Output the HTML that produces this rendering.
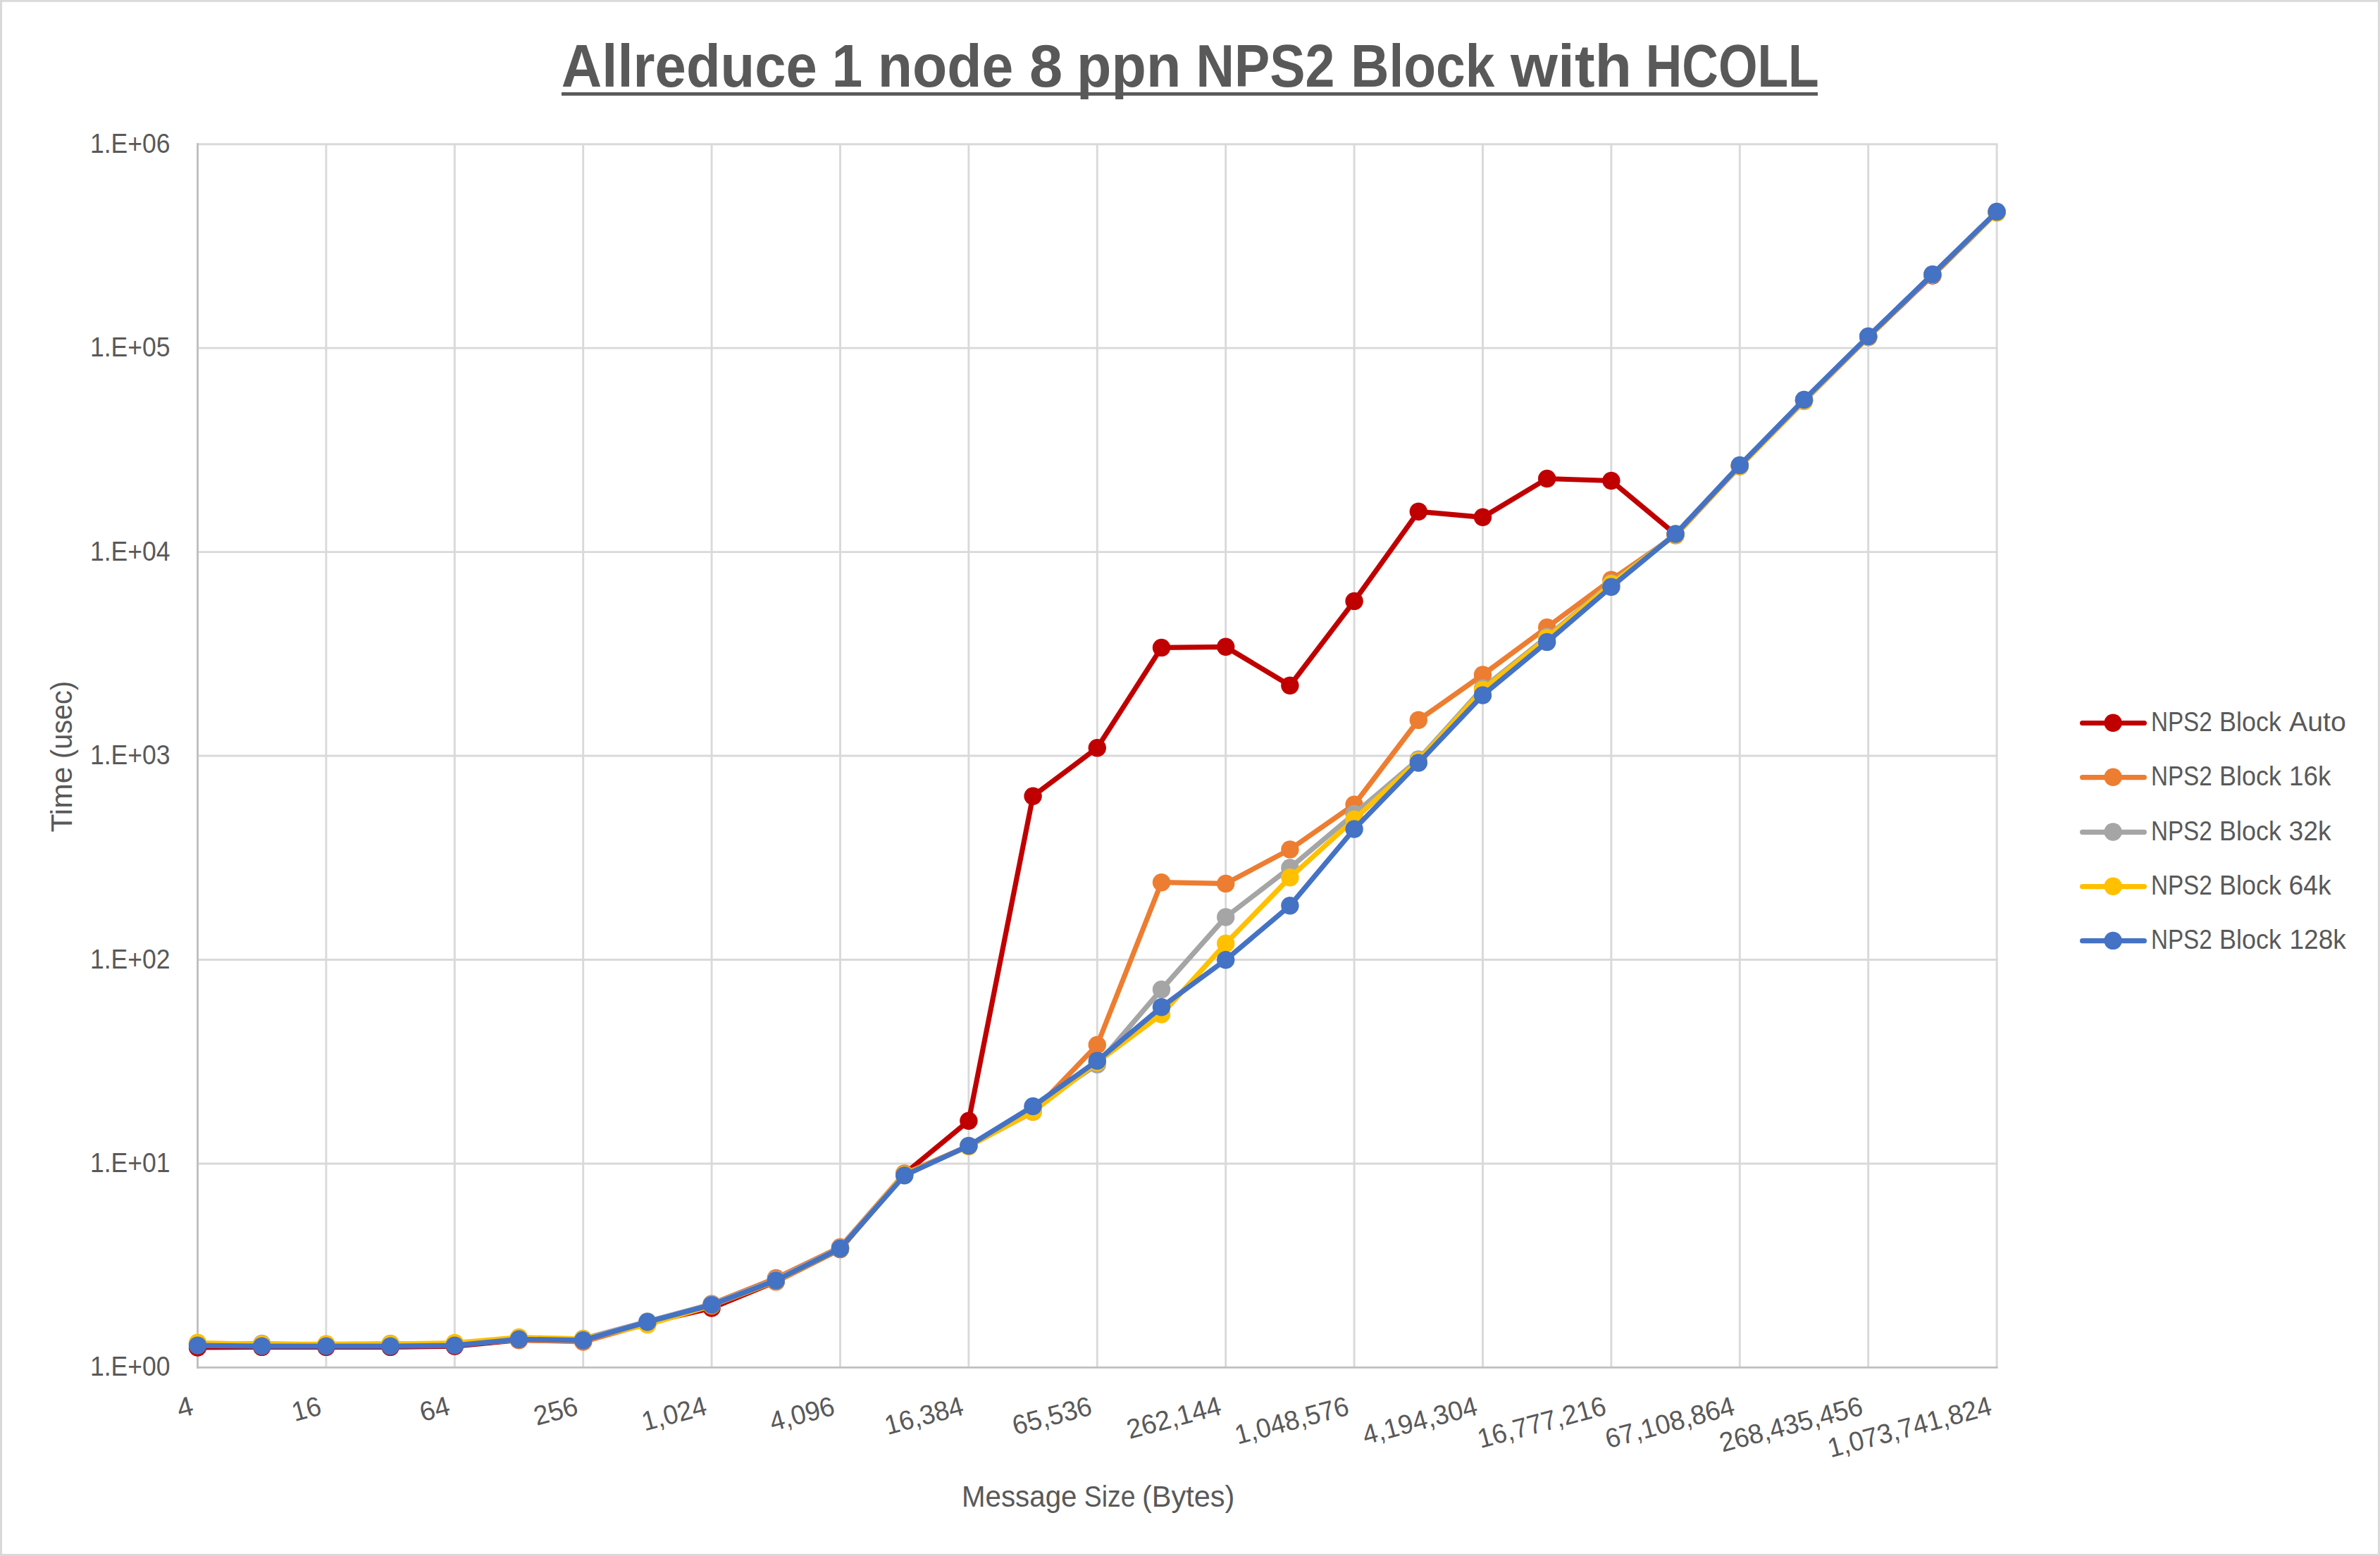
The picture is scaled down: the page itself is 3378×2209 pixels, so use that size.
<!DOCTYPE html>
<html lang="en"><head><meta charset="utf-8">
<title>Allreduce 1 node 8 ppn NPS2 Block with HCOLL</title>
<style>
html,body{margin:0;padding:0;background:#fff;}
body{width:3378px;height:2209px;overflow:hidden;}
svg{display:block;}
text{font-family:"Liberation Sans", "DejaVu Sans", sans-serif;fill:#595959;}
.t{font-size:85.8px;font-weight:bold;}
.a{font-size:38.6px;}
.b{font-size:42.6px;}
.g{stroke:#D9D9D9;stroke-width:2.90;fill:none;}
.ax{stroke:#BFBFBF;stroke-width:2.90;fill:none;}
.s{fill:none;stroke-width:7.20;stroke-linejoin:round;stroke-linecap:round;}
</style></head><body>
<svg width="3378" height="2209" viewBox="0 0 3378 2209">
<rect x="0" y="0" width="3378" height="2209" fill="#FFFFFF"/>
<rect x="1.5" y="1.25" width="3375.0" height="2206.2" fill="none" stroke="#D9D9D9" stroke-width="3"/>
<g class="g">
<line x1="279.00" y1="1651.95" x2="2835.60" y2="1651.95"/>
<line x1="279.00" y1="1362.50" x2="2835.60" y2="1362.50"/>
<line x1="279.00" y1="1073.05" x2="2835.60" y2="1073.05"/>
<line x1="279.00" y1="783.60" x2="2835.60" y2="783.60"/>
<line x1="279.00" y1="494.15" x2="2835.60" y2="494.15"/>
<line x1="279.00" y1="204.70" x2="2835.60" y2="204.70"/>
<line x1="462.90" y1="204.70" x2="462.90" y2="1941.40"/>
<line x1="645.30" y1="204.70" x2="645.30" y2="1941.40"/>
<line x1="827.70" y1="204.70" x2="827.70" y2="1941.40"/>
<line x1="1010.10" y1="204.70" x2="1010.10" y2="1941.40"/>
<line x1="1192.50" y1="204.70" x2="1192.50" y2="1941.40"/>
<line x1="1374.90" y1="204.70" x2="1374.90" y2="1941.40"/>
<line x1="1557.30" y1="204.70" x2="1557.30" y2="1941.40"/>
<line x1="1739.70" y1="204.70" x2="1739.70" y2="1941.40"/>
<line x1="1922.10" y1="204.70" x2="1922.10" y2="1941.40"/>
<line x1="2104.50" y1="204.70" x2="2104.50" y2="1941.40"/>
<line x1="2286.90" y1="204.70" x2="2286.90" y2="1941.40"/>
<line x1="2469.30" y1="204.70" x2="2469.30" y2="1941.40"/>
<line x1="2651.70" y1="204.70" x2="2651.70" y2="1941.40"/>
<line x1="2834.10" y1="204.70" x2="2834.10" y2="1941.40"/>
</g>
<g class="ax">
<line x1="280.50" y1="203.20" x2="280.50" y2="1942.90"/>
<line x1="279.00" y1="1941.40" x2="2835.60" y2="1941.40"/>
</g>
<g class="t">
<text x="796.8" y="122.6" textLength="363.0" lengthAdjust="spacingAndGlyphs">Allreduce</text>
<text x="1180.8" y="122.6" textLength="43.5" lengthAdjust="spacingAndGlyphs">1</text>
<text x="1245.8" y="122.6" textLength="192.5" lengthAdjust="spacingAndGlyphs">node</text>
<text x="1461.0" y="122.6" textLength="47.2" lengthAdjust="spacingAndGlyphs">8</text>
<text x="1528.1" y="122.6" textLength="148.2" lengthAdjust="spacingAndGlyphs">ppn</text>
<text x="1697.4" y="122.6" textLength="197.1" lengthAdjust="spacingAndGlyphs">NPS2</text>
<text x="1917.3" y="122.6" textLength="204.1" lengthAdjust="spacingAndGlyphs">Block</text>
<text x="2144.1" y="122.6" textLength="172.0" lengthAdjust="spacingAndGlyphs">with</text>
<text x="2335.8" y="122.6" textLength="245.8" lengthAdjust="spacingAndGlyphs">HCOLL</text>
</g>
<rect x="797" y="131" width="1783" height="4.8" fill="#595959"/>
<g class="a">
<text x="128.0" y="1953.4" textLength="113.5" lengthAdjust="spacingAndGlyphs">1.E+00</text>
<text x="128.0" y="1664.0" textLength="113.5" lengthAdjust="spacingAndGlyphs">1.E+01</text>
<text x="128.0" y="1374.5" textLength="113.5" lengthAdjust="spacingAndGlyphs">1.E+02</text>
<text x="128.0" y="1085.1" textLength="113.5" lengthAdjust="spacingAndGlyphs">1.E+03</text>
<text x="128.0" y="795.6" textLength="113.5" lengthAdjust="spacingAndGlyphs">1.E+04</text>
<text x="128.0" y="506.2" textLength="113.5" lengthAdjust="spacingAndGlyphs">1.E+05</text>
<text x="128.0" y="216.7" textLength="113.5" lengthAdjust="spacingAndGlyphs">1.E+06</text>
</g>
<g class="a">
<text transform="translate(275.2 2007.8) rotate(-15)" x="-21.0" textLength="22.4" lengthAdjust="spacingAndGlyphs">4</text>
<text transform="translate(457.6 2007.8) rotate(-15)" x="-40.7" textLength="41.4" lengthAdjust="spacingAndGlyphs">16</text>
<text transform="translate(640.0 2007.8) rotate(-15)" x="-41.8" textLength="42.5" lengthAdjust="spacingAndGlyphs">64</text>
<text transform="translate(822.4 2007.8) rotate(-15)" x="-62.7" textLength="62.7" lengthAdjust="spacingAndGlyphs">256</text>
<text transform="translate(1004.8 2007.8) rotate(-15)" x="-92.9" textLength="93.5" lengthAdjust="spacingAndGlyphs">1,024</text>
<text transform="translate(1187.2 2007.8) rotate(-15)" x="-93.9" textLength="93.5" lengthAdjust="spacingAndGlyphs">4,096</text>
<text transform="translate(1369.6 2007.8) rotate(-15)" x="-113.7" textLength="113.7" lengthAdjust="spacingAndGlyphs">16,384</text>
<text transform="translate(1552.0 2007.8) rotate(-15)" x="-114.8" textLength="114.8" lengthAdjust="spacingAndGlyphs">65,536</text>
<text transform="translate(1734.4 2007.8) rotate(-15)" x="-135.7" textLength="137.0" lengthAdjust="spacingAndGlyphs">262,144</text>
<text transform="translate(1916.8 2007.8) rotate(-15)" x="-165.8" textLength="165.8" lengthAdjust="spacingAndGlyphs">1,048,576</text>
<text transform="translate(2099.2 2007.8) rotate(-15)" x="-166.9" textLength="166.9" lengthAdjust="spacingAndGlyphs">4,194,304</text>
<text transform="translate(2281.6 2007.8) rotate(-15)" x="-186.8" textLength="187.1" lengthAdjust="spacingAndGlyphs">16,777,216</text>
<text transform="translate(2464.0 2007.8) rotate(-15)" x="-187.8" textLength="188.1" lengthAdjust="spacingAndGlyphs">67,108,864</text>
<text transform="translate(2646.4 2007.8) rotate(-15)" x="-208.7" textLength="208.4" lengthAdjust="spacingAndGlyphs">268,435,456</text>
<text transform="translate(2828.8 2007.8) rotate(-15)" x="-238.8" textLength="239.2" lengthAdjust="spacingAndGlyphs">1,073,741,824</text>
</g>
<g class="b">
<text x="1364.9" y="2138.8" textLength="163.6" lengthAdjust="spacingAndGlyphs">Message</text>
<text x="1538.8" y="2138.8" textLength="72.7" lengthAdjust="spacingAndGlyphs">Size</text>
<text x="1620.9" y="2138.8" textLength="131.5" lengthAdjust="spacingAndGlyphs">(Bytes)</text>
<text transform="translate(102 1180.6) rotate(-90)" x="-1.0" textLength="93.1" lengthAdjust="spacingAndGlyphs">Time</text>
<text transform="translate(102 1180.6) rotate(-90)" x="103.6" textLength="110.1" lengthAdjust="spacingAndGlyphs">(usec)</text>
</g>
<g fill="#C00000" stroke="none">
<polyline class="s" stroke="#C00000" points="280.5,1913.0 371.7,1912.4 462.9,1912.4 554.1,1912.4 645.3,1911.2 736.5,1902.5 827.7,1904.0 918.9,1878.0 1010.1,1857.0 1101.3,1819.5 1192.5,1773.5 1283.7,1666.5 1374.9,1591.3 1466.1,1130.2 1557.3,1061.7 1648.5,919.4 1739.7,918.3 1830.9,973.2 1922.1,853.4 2013.3,726.2 2104.5,734.3 2195.7,679.5 2286.9,682.5 2378.1,758.5 2469.3,661.5 2560.5,568.5 2651.7,478.5 2742.9,391.0 2834.1,301.5"/>
<circle cx="280.5" cy="1913.0" r="12.7"/>
<circle cx="371.7" cy="1912.4" r="12.7"/>
<circle cx="462.9" cy="1912.4" r="12.7"/>
<circle cx="554.1" cy="1912.4" r="12.7"/>
<circle cx="645.3" cy="1911.2" r="12.7"/>
<circle cx="736.5" cy="1902.5" r="12.7"/>
<circle cx="827.7" cy="1904.0" r="12.7"/>
<circle cx="918.9" cy="1878.0" r="12.7"/>
<circle cx="1010.1" cy="1857.0" r="12.7"/>
<circle cx="1101.3" cy="1819.5" r="12.7"/>
<circle cx="1192.5" cy="1773.5" r="12.7"/>
<circle cx="1283.7" cy="1666.5" r="12.7"/>
<circle cx="1374.9" cy="1591.3" r="12.7"/>
<circle cx="1466.1" cy="1130.2" r="12.7"/>
<circle cx="1557.3" cy="1061.7" r="12.7"/>
<circle cx="1648.5" cy="919.4" r="12.7"/>
<circle cx="1739.7" cy="918.3" r="12.7"/>
<circle cx="1830.9" cy="973.2" r="12.7"/>
<circle cx="1922.1" cy="853.4" r="12.7"/>
<circle cx="2013.3" cy="726.2" r="12.7"/>
<circle cx="2104.5" cy="734.3" r="12.7"/>
<circle cx="2195.7" cy="679.5" r="12.7"/>
<circle cx="2286.9" cy="682.5" r="12.7"/>
<circle cx="2378.1" cy="758.5" r="12.7"/>
<circle cx="2469.3" cy="661.5" r="12.7"/>
<circle cx="2560.5" cy="568.5" r="12.7"/>
<circle cx="2651.7" cy="478.5" r="12.7"/>
<circle cx="2742.9" cy="391.0" r="12.7"/>
<circle cx="2834.1" cy="301.5" r="12.7"/>
</g>
<g fill="#ED7D31" stroke="none">
<polyline class="s" stroke="#ED7D31" points="280.5,1908.0 371.7,1910.0 462.9,1910.0 554.1,1910.0 645.3,1909.0 736.5,1902.5 827.7,1905.0 918.9,1879.0 1010.1,1851.0 1101.3,1814.5 1192.5,1770.5 1283.7,1666.0 1374.9,1627.0 1466.1,1578.5 1557.3,1483.5 1648.5,1252.7 1739.7,1254.4 1830.9,1205.9 1922.1,1142.3 2013.3,1022.2 2104.5,958.0 2195.7,890.7 2286.9,823.2 2378.1,760.0 2469.3,662.0 2560.5,569.5 2651.7,478.5 2742.9,390.0 2834.1,301.5"/>
<circle cx="280.5" cy="1908.0" r="12.7"/>
<circle cx="371.7" cy="1910.0" r="12.7"/>
<circle cx="462.9" cy="1910.0" r="12.7"/>
<circle cx="554.1" cy="1910.0" r="12.7"/>
<circle cx="645.3" cy="1909.0" r="12.7"/>
<circle cx="736.5" cy="1902.5" r="12.7"/>
<circle cx="827.7" cy="1905.0" r="12.7"/>
<circle cx="918.9" cy="1879.0" r="12.7"/>
<circle cx="1010.1" cy="1851.0" r="12.7"/>
<circle cx="1101.3" cy="1814.5" r="12.7"/>
<circle cx="1192.5" cy="1770.5" r="12.7"/>
<circle cx="1283.7" cy="1666.0" r="12.7"/>
<circle cx="1374.9" cy="1627.0" r="12.7"/>
<circle cx="1466.1" cy="1578.5" r="12.7"/>
<circle cx="1557.3" cy="1483.5" r="12.7"/>
<circle cx="1648.5" cy="1252.7" r="12.7"/>
<circle cx="1739.7" cy="1254.4" r="12.7"/>
<circle cx="1830.9" cy="1205.9" r="12.7"/>
<circle cx="1922.1" cy="1142.3" r="12.7"/>
<circle cx="2013.3" cy="1022.2" r="12.7"/>
<circle cx="2104.5" cy="958.0" r="12.7"/>
<circle cx="2195.7" cy="890.7" r="12.7"/>
<circle cx="2286.9" cy="823.2" r="12.7"/>
<circle cx="2378.1" cy="760.0" r="12.7"/>
<circle cx="2469.3" cy="662.0" r="12.7"/>
<circle cx="2560.5" cy="569.5" r="12.7"/>
<circle cx="2651.7" cy="478.5" r="12.7"/>
<circle cx="2742.9" cy="390.0" r="12.7"/>
<circle cx="2834.1" cy="301.5" r="12.7"/>
</g>
<g fill="#A5A5A5" stroke="none">
<polyline class="s" stroke="#A5A5A5" points="280.5,1908.0 371.7,1907.5 462.9,1909.0 554.1,1907.5 645.3,1908.0 736.5,1900.0 827.7,1900.5 918.9,1876.0 1010.1,1851.5 1101.3,1816.5 1192.5,1771.5 1283.7,1668.0 1374.9,1627.0 1466.1,1572.0 1557.3,1511.3 1648.5,1404.7 1739.7,1302.0 1830.9,1231.9 1922.1,1155.5 2013.3,1078.0 2104.5,977.0 2195.7,904.0 2286.9,828.0 2378.1,758.5 2469.3,661.0 2560.5,568.0 2651.7,478.0 2742.9,390.0 2834.1,301.0"/>
<circle cx="280.5" cy="1908.0" r="12.7"/>
<circle cx="371.7" cy="1907.5" r="12.7"/>
<circle cx="462.9" cy="1909.0" r="12.7"/>
<circle cx="554.1" cy="1907.5" r="12.7"/>
<circle cx="645.3" cy="1908.0" r="12.7"/>
<circle cx="736.5" cy="1900.0" r="12.7"/>
<circle cx="827.7" cy="1900.5" r="12.7"/>
<circle cx="918.9" cy="1876.0" r="12.7"/>
<circle cx="1010.1" cy="1851.5" r="12.7"/>
<circle cx="1101.3" cy="1816.5" r="12.7"/>
<circle cx="1192.5" cy="1771.5" r="12.7"/>
<circle cx="1283.7" cy="1668.0" r="12.7"/>
<circle cx="1374.9" cy="1627.0" r="12.7"/>
<circle cx="1466.1" cy="1572.0" r="12.7"/>
<circle cx="1557.3" cy="1511.3" r="12.7"/>
<circle cx="1648.5" cy="1404.7" r="12.7"/>
<circle cx="1739.7" cy="1302.0" r="12.7"/>
<circle cx="1830.9" cy="1231.9" r="12.7"/>
<circle cx="1922.1" cy="1155.5" r="12.7"/>
<circle cx="2013.3" cy="1078.0" r="12.7"/>
<circle cx="2104.5" cy="977.0" r="12.7"/>
<circle cx="2195.7" cy="904.0" r="12.7"/>
<circle cx="2286.9" cy="828.0" r="12.7"/>
<circle cx="2378.1" cy="758.5" r="12.7"/>
<circle cx="2469.3" cy="661.0" r="12.7"/>
<circle cx="2560.5" cy="568.0" r="12.7"/>
<circle cx="2651.7" cy="478.0" r="12.7"/>
<circle cx="2742.9" cy="390.0" r="12.7"/>
<circle cx="2834.1" cy="301.0" r="12.7"/>
</g>
<g fill="#FFC000" stroke="none">
<polyline class="s" stroke="#FFC000" points="280.5,1906.3 371.7,1908.5 462.9,1908.0 554.1,1908.0 645.3,1906.5 736.5,1898.5 827.7,1901.0 918.9,1880.6 1010.1,1853.5 1101.3,1819.0 1192.5,1773.0 1283.7,1667.5 1374.9,1627.5 1466.1,1578.2 1557.3,1508.0 1648.5,1440.1 1739.7,1339.5 1830.9,1245.8 1922.1,1163.2 2013.3,1080.0 2104.5,979.3 2195.7,905.8 2286.9,829.0 2378.1,759.0 2469.3,661.5 2560.5,569.0 2651.7,478.3 2742.9,390.0 2834.1,302.0"/>
<circle cx="280.5" cy="1906.3" r="12.7"/>
<circle cx="371.7" cy="1908.5" r="12.7"/>
<circle cx="462.9" cy="1908.0" r="12.7"/>
<circle cx="554.1" cy="1908.0" r="12.7"/>
<circle cx="645.3" cy="1906.5" r="12.7"/>
<circle cx="736.5" cy="1898.5" r="12.7"/>
<circle cx="827.7" cy="1901.0" r="12.7"/>
<circle cx="918.9" cy="1880.6" r="12.7"/>
<circle cx="1010.1" cy="1853.5" r="12.7"/>
<circle cx="1101.3" cy="1819.0" r="12.7"/>
<circle cx="1192.5" cy="1773.0" r="12.7"/>
<circle cx="1283.7" cy="1667.5" r="12.7"/>
<circle cx="1374.9" cy="1627.5" r="12.7"/>
<circle cx="1466.1" cy="1578.2" r="12.7"/>
<circle cx="1557.3" cy="1508.0" r="12.7"/>
<circle cx="1648.5" cy="1440.1" r="12.7"/>
<circle cx="1739.7" cy="1339.5" r="12.7"/>
<circle cx="1830.9" cy="1245.8" r="12.7"/>
<circle cx="1922.1" cy="1163.2" r="12.7"/>
<circle cx="2013.3" cy="1080.0" r="12.7"/>
<circle cx="2104.5" cy="979.3" r="12.7"/>
<circle cx="2195.7" cy="905.8" r="12.7"/>
<circle cx="2286.9" cy="829.0" r="12.7"/>
<circle cx="2378.1" cy="759.0" r="12.7"/>
<circle cx="2469.3" cy="661.5" r="12.7"/>
<circle cx="2560.5" cy="569.0" r="12.7"/>
<circle cx="2651.7" cy="478.3" r="12.7"/>
<circle cx="2742.9" cy="390.0" r="12.7"/>
<circle cx="2834.1" cy="302.0" r="12.7"/>
</g>
<g fill="#4472C4" stroke="none">
<polyline class="s" stroke="#4472C4" points="280.5,1910.1 371.7,1911.1 462.9,1911.1 554.1,1911.1 645.3,1910.1 736.5,1901.3 827.7,1902.8 918.9,1876.8 1010.1,1852.6 1101.3,1817.9 1192.5,1772.4 1283.7,1668.8 1374.9,1626.6 1466.1,1570.5 1557.3,1506.0 1648.5,1429.7 1739.7,1362.7 1830.9,1285.7 1922.1,1177.0 2013.3,1083.0 2104.5,987.0 2195.7,911.4 2286.9,833.2 2378.1,758.0 2469.3,660.5 2560.5,567.5 2651.7,477.5 2742.9,389.4 2834.1,300.5"/>
<circle cx="280.5" cy="1910.1" r="12.7"/>
<circle cx="371.7" cy="1911.1" r="12.7"/>
<circle cx="462.9" cy="1911.1" r="12.7"/>
<circle cx="554.1" cy="1911.1" r="12.7"/>
<circle cx="645.3" cy="1910.1" r="12.7"/>
<circle cx="736.5" cy="1901.3" r="12.7"/>
<circle cx="827.7" cy="1902.8" r="12.7"/>
<circle cx="918.9" cy="1876.8" r="12.7"/>
<circle cx="1010.1" cy="1852.6" r="12.7"/>
<circle cx="1101.3" cy="1817.9" r="12.7"/>
<circle cx="1192.5" cy="1772.4" r="12.7"/>
<circle cx="1283.7" cy="1668.8" r="12.7"/>
<circle cx="1374.9" cy="1626.6" r="12.7"/>
<circle cx="1466.1" cy="1570.5" r="12.7"/>
<circle cx="1557.3" cy="1506.0" r="12.7"/>
<circle cx="1648.5" cy="1429.7" r="12.7"/>
<circle cx="1739.7" cy="1362.7" r="12.7"/>
<circle cx="1830.9" cy="1285.7" r="12.7"/>
<circle cx="1922.1" cy="1177.0" r="12.7"/>
<circle cx="2013.3" cy="1083.0" r="12.7"/>
<circle cx="2104.5" cy="987.0" r="12.7"/>
<circle cx="2195.7" cy="911.4" r="12.7"/>
<circle cx="2286.9" cy="833.2" r="12.7"/>
<circle cx="2378.1" cy="758.0" r="12.7"/>
<circle cx="2469.3" cy="660.5" r="12.7"/>
<circle cx="2560.5" cy="567.5" r="12.7"/>
<circle cx="2651.7" cy="477.5" r="12.7"/>
<circle cx="2742.9" cy="389.4" r="12.7"/>
<circle cx="2834.1" cy="300.5" r="12.7"/>
</g>
<line x1="2955.6" y1="1026.5" x2="3043.4" y2="1026.5" stroke="#C00000" stroke-width="7.2" stroke-linecap="round"/>
<circle cx="2999.1" cy="1026.2" r="12.7" fill="#C00000"/>
<text class="a" x="3052.9" y="1037.9" textLength="86.8" lengthAdjust="spacingAndGlyphs">NPS2</text>
<text class="a" x="3150.1" y="1037.9" textLength="87.8" lengthAdjust="spacingAndGlyphs">Block</text>
<text class="a" x="3249.1" y="1037.9" textLength="80.7" lengthAdjust="spacingAndGlyphs">Auto</text>
<line x1="2955.6" y1="1103.6" x2="3043.4" y2="1103.6" stroke="#ED7D31" stroke-width="7.2" stroke-linecap="round"/>
<circle cx="2999.1" cy="1103.3" r="12.7" fill="#ED7D31"/>
<text class="a" x="3052.9" y="1115.0" textLength="86.8" lengthAdjust="spacingAndGlyphs">NPS2</text>
<text class="a" x="3150.1" y="1115.0" textLength="87.8" lengthAdjust="spacingAndGlyphs">Block</text>
<text class="a" x="3249.1" y="1115.0" textLength="59.3" lengthAdjust="spacingAndGlyphs">16k</text>
<line x1="2955.6" y1="1181.3" x2="3043.4" y2="1181.3" stroke="#A5A5A5" stroke-width="7.2" stroke-linecap="round"/>
<circle cx="2999.1" cy="1181.0" r="12.7" fill="#A5A5A5"/>
<text class="a" x="3052.9" y="1192.7" textLength="86.8" lengthAdjust="spacingAndGlyphs">NPS2</text>
<text class="a" x="3150.1" y="1192.7" textLength="87.8" lengthAdjust="spacingAndGlyphs">Block</text>
<text class="a" x="3248.5" y="1192.7" textLength="60.1" lengthAdjust="spacingAndGlyphs">32k</text>
<line x1="2955.6" y1="1258.6" x2="3043.4" y2="1258.6" stroke="#FFC000" stroke-width="7.2" stroke-linecap="round"/>
<circle cx="2999.1" cy="1258.3" r="12.7" fill="#FFC000"/>
<text class="a" x="3052.9" y="1270.0" textLength="86.8" lengthAdjust="spacingAndGlyphs">NPS2</text>
<text class="a" x="3150.1" y="1270.0" textLength="87.8" lengthAdjust="spacingAndGlyphs">Block</text>
<text class="a" x="3248.5" y="1270.0" textLength="60.1" lengthAdjust="spacingAndGlyphs">64k</text>
<line x1="2955.6" y1="1335.7" x2="3043.4" y2="1335.7" stroke="#4472C4" stroke-width="7.2" stroke-linecap="round"/>
<circle cx="2999.1" cy="1335.4" r="12.7" fill="#4472C4"/>
<text class="a" x="3052.9" y="1347.1" textLength="86.8" lengthAdjust="spacingAndGlyphs">NPS2</text>
<text class="a" x="3150.1" y="1347.1" textLength="87.8" lengthAdjust="spacingAndGlyphs">Block</text>
<text class="a" x="3249.5" y="1347.1" textLength="80.3" lengthAdjust="spacingAndGlyphs">128k</text>
</svg></body></html>
